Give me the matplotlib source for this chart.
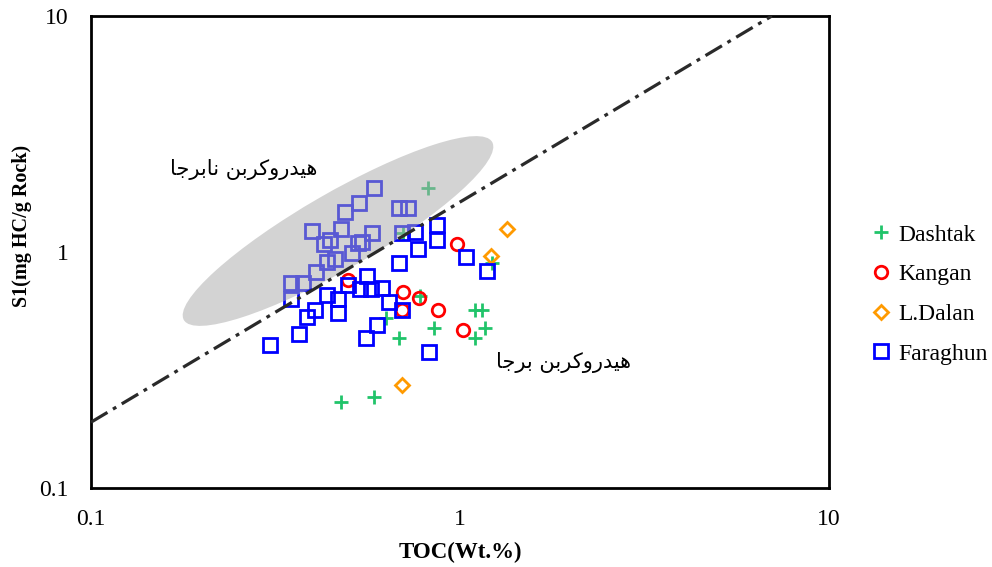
import matplotlib
matplotlib.use("Agg")
import matplotlib.pyplot as plt
from matplotlib.patches import Ellipse

# TOC (wt.%) and S1 (mg HC/g rock)
dashtak_toc = [0.82, 0.70, 0.78, 0.63, 0.685, 0.85, 1.10, 1.15, 1.17, 1.10, 1.22, 0.476, 0.586]
dashtak_s1 = [1.87, 1.20, 0.652, 0.525, 0.433, 0.475, 0.568, 0.568, 0.475, 0.431, 0.894, 0.232, 0.242]

kangan_toc = [0.498, 0.702, 0.774, 0.873, 1.02, 0.983, 0.697]
kangan_s1 = [0.761, 0.680, 0.638, 0.568, 0.466, 1.076, 0.568]

dalan_toc = [1.34, 1.21, 0.695]
dalan_s1 = [1.25, 0.962, 0.273]

faraghun_toc = [0.585, 0.533, 0.487, 0.684, 0.724, 0.396, 0.475, 0.445, 0.427, 0.577,
                0.542, 0.530, 0.509, 0.458, 0.435, 0.407, 0.348, 0.376, 0.348, 0.698,
                0.755, 0.865, 0.865, 0.771, 0.685, 1.04, 1.18, 0.558, 0.498, 0.536,
                0.573, 0.615, 0.437, 0.468, 0.643, 0.468, 0.405, 0.384, 0.697, 0.597,
                0.556, 0.367, 0.305, 0.824]
faraghun_s1 = [1.86, 1.61, 1.48, 1.54, 1.53, 1.23, 1.25, 1.12, 1.08, 1.20,
               1.105, 1.09, 0.994, 0.931, 0.905, 0.825, 0.741, 0.741, 0.630, 1.20,
               1.21, 1.30, 1.12, 1.03, 0.898, 0.948, 0.831, 0.791, 0.725, 0.695,
               0.695, 0.701, 0.658, 0.632, 0.612, 0.550, 0.568, 0.528, 0.568, 0.490,
               0.431, 0.448, 0.404, 0.377]

# dividing line between the two fields
line_toc = [0.1, 7.0]
line_s1 = [0.19, 10.0]

# Persian labels, written with presentation forms in visual order
unbound = "\uFEEB\uFEF4\uFEAA\uFEAD\uFEED\uFB90\uFEAE\uFE91\uFEE6 \uFEE7\uFE8E\uFE91\uFEAE\uFE9F\uFE8E"
bound = "\uFEEB\uFEF4\uFEAA\uFEAD\uFEED\uFB90\uFEAE\uFE91\uFEE6 \uFE91\uFEAE\uFE9F\uFE8E"
unbound_vis = unbound[::-1]
bound_vis = bound[::-1]

plt.rcParams['font.family'] = ['Liberation Serif', 'DejaVu Sans']

fig = plt.figure(figsize=(9.92, 5.67), dpi=100)
ax = fig.add_axes([91/992, 1-488/567, 738/992, 472/567])
ax.set_xscale('log')
ax.set_yscale('log')
ax.set_xlim(0.1, 10)
ax.set_ylim(0.1, 10)

ax.plot(dashtak_toc, dashtak_s1, ls='none', marker='+', ms=10, mew=2,
        color='#21c46a', label='Dashtak', zorder=2)
ax.plot(kangan_toc, kangan_s1, ls='none', marker='o', ms=9, mew=2,
        mfc='none', mec='#ff0000', label='Kangan', zorder=2)
ax.plot(dalan_toc, dalan_s1, ls='none', marker='D', ms=7.5, mew=2,
        mfc='none', mec='#ff9a00', label='L.Dalan', zorder=2)
ax.plot(faraghun_toc, faraghun_s1, ls='none', marker='s', ms=9.5, mew=2,
        mfc='none', mec='#0000ff', label='Faraghun', zorder=2)

# grey field of non-indigenous hydrocarbon (drawn over the points)
ell = Ellipse((3.38, 3.36), 3.56, 0.76, angle=30, transform=fig.dpi_scale_trans,
              facecolor=(0.67, 0.67, 0.67), edgecolor='none', alpha=0.52, zorder=3)
ax.add_patch(ell)

ax.plot(line_toc, line_s1, color='#2a2a2a', lw=2.3, dashes=(6, 2, 1.2, 2), zorder=4)

ax.text(0.26, 2.23, unbound_vis, family=['DejaVu Sans'], fontsize=15,
        ha='center', va='center')
ax.text(1.91, 0.339, bound_vis, family=['DejaVu Sans'], fontsize=15,
        ha='center', va='center')

ax.set_xticks([0.1, 1, 10])
ax.set_xticklabels(['0.1', '1', '10'])
ax.set_yticks([0.1, 1, 10])
ax.set_yticklabels(['0.1', '1', '10'])
ax.minorticks_off()
ax.tick_params(axis='x', length=0, pad=15, labelsize=17)
ax.tick_params(axis='y', length=0, pad=16, labelsize=17)
for s in ax.spines.values():
    s.set_linewidth(2)

ax.set_xlabel('TOC(Wt.%)', fontsize=16.5, fontweight='bold')
ax.xaxis.set_label_coords(0.5, -0.114)
ax.set_ylabel('S1(mg HC/g Rock)', fontsize=14.5, fontweight='bold')
ax.yaxis.set_label_coords(-0.080, 0.555)

fig.legend(loc='upper left', bbox_to_anchor=(872/992, 1-224/567), frameon=False,
           fontsize=17, borderpad=0, handlelength=0.8, handletextpad=0.3,
           labelspacing=0.77, borderaxespad=0)

fig.savefig('out.png', dpi=100)
